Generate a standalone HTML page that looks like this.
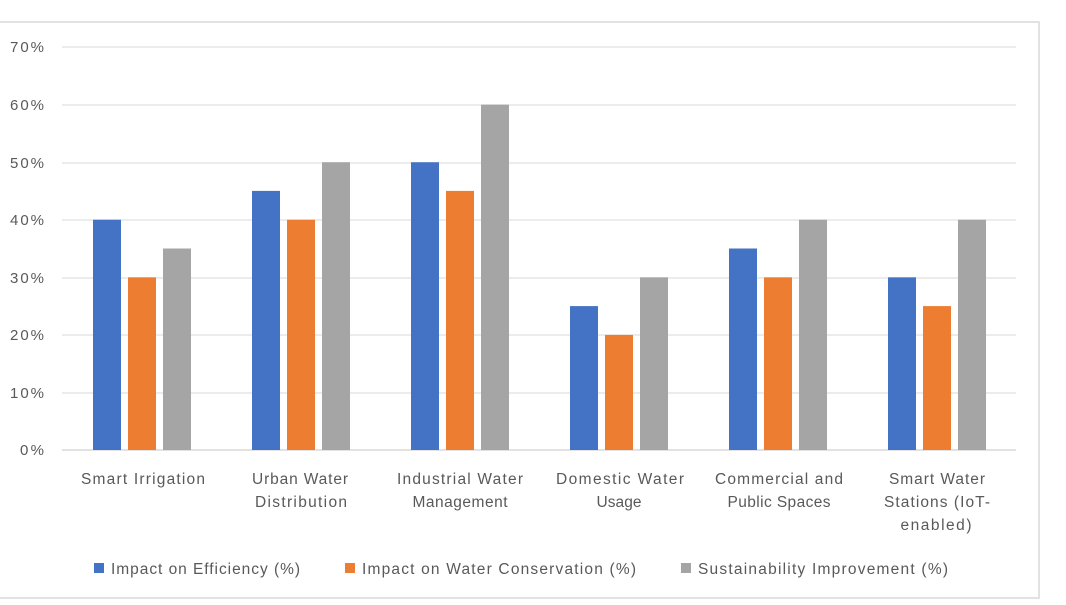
<!DOCTYPE html>
<html><head><meta charset="utf-8"><style>
body{margin:0;background:#fff;}
svg{display:block;font-family:"Liberation Sans",sans-serif;}
</style></head><body>
<svg width="1066" height="605" viewBox="0 0 1066 605">
<rect x="-2" y="22" width="1041" height="576" fill="#fff" stroke="#d9d9d9" stroke-width="1.5"/>
<g stroke="#d9d9d9" stroke-width="1">
<line x1="62" x2="1016" y1="47" y2="47"/><line x1="62" x2="1016" y1="105" y2="105"/>
<line x1="62" x2="1016" y1="163" y2="163"/><line x1="62" x2="1016" y1="220" y2="220"/>
<line x1="62" x2="1016" y1="278" y2="278"/><line x1="62" x2="1016" y1="335" y2="335"/>
<line x1="62" x2="1016" y1="393" y2="393"/>
</g>
<g fill="#595959" font-size="15" text-anchor="end">
<text x="44" y="52" textLength="34">70%</text><text x="44" y="110" textLength="34">60%</text><text x="44" y="168" textLength="34">50%</text>
<text x="44" y="225" textLength="34">40%</text><text x="44" y="283" textLength="34">30%</text><text x="44" y="340" textLength="34">20%</text>
<text x="44" y="398" textLength="34">10%</text><text x="44" y="455" textLength="24">0%</text>
</g>
<line x1="62" x2="1016" y1="450" y2="450" stroke="#d9d9d9" stroke-width="1.5"/>
<g fill="#595959" font-size="15.5" text-anchor="middle">
<text x="143" y="484" textLength="124">Smart Irrigation</text>
<text x="300" y="484" textLength="96">Urban Water</text><text x="301" y="507" textLength="92">Distribution</text>
<text x="460" y="484" textLength="126">Industrial Water</text><text x="460" y="507" textLength="95">Management</text>
<text x="620" y="484" textLength="128">Domestic Water</text><text x="619" y="507" textLength="45">Usage</text>
<text x="779" y="484" textLength="128">Commercial and</text><text x="779" y="507" textLength="103">Public Spaces</text>
<text x="937" y="484" textLength="96">Smart Water</text><text x="937" y="507" textLength="106">Stations (IoT-</text><text x="936" y="530" textLength="71">enabled)</text>
</g>
<g font-size="15.5" fill="#595959">
<rect x="94" y="563" width="10" height="10" fill="#4472c4"/><text x="111" y="574" textLength="189">Impact on Efficiency (%)</text>
<rect x="345" y="563" width="10" height="10" fill="#ed7d31"/><text x="362" y="574" textLength="274">Impact on Water Conservation (%)</text>
<rect x="681" y="563" width="10" height="10" fill="#a5a5a5"/><text x="698" y="574" textLength="250">Sustainability Improvement (%)</text>
</g>
<g>
<rect x="93" y="219.7" width="28" height="230.3" fill="#4472c4"/>
<rect x="128" y="277.3" width="28" height="172.7" fill="#ed7d31"/>
<rect x="163" y="248.5" width="28" height="201.5" fill="#a5a5a5"/>
<rect x="252" y="190.9" width="28" height="259.1" fill="#4472c4"/>
<rect x="287" y="219.7" width="28" height="230.3" fill="#ed7d31"/>
<rect x="322" y="162.2" width="28" height="287.8" fill="#a5a5a5"/>
<rect x="411" y="162.2" width="28" height="287.8" fill="#4472c4"/>
<rect x="446" y="190.9" width="28" height="259.1" fill="#ed7d31"/>
<rect x="481" y="104.6" width="28" height="345.4" fill="#a5a5a5"/>
<rect x="570" y="306.1" width="28" height="143.9" fill="#4472c4"/>
<rect x="605" y="334.9" width="28" height="115.1" fill="#ed7d31"/>
<rect x="640" y="277.3" width="28" height="172.7" fill="#a5a5a5"/>
<rect x="729" y="248.5" width="28" height="201.5" fill="#4472c4"/>
<rect x="764" y="277.3" width="28" height="172.7" fill="#ed7d31"/>
<rect x="799" y="219.7" width="28" height="230.3" fill="#a5a5a5"/>
<rect x="888" y="277.3" width="28" height="172.7" fill="#4472c4"/>
<rect x="923" y="306.1" width="28" height="143.9" fill="#ed7d31"/>
<rect x="958" y="219.7" width="28" height="230.3" fill="#a5a5a5"/>
</g>
</svg>
</body></html>
